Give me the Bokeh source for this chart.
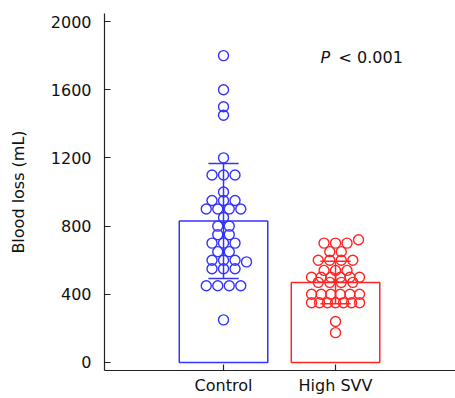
from bokeh.plotting import figure
from bokeh.models import FixedTicker, Label, Range1d
from bokeh.embed import file_html
from bokeh.resources import INLINE

# ---------------- data ----------------
categories = ["Control", "High SVV"]
cat_pos = [1, 2]
control_values = [1800, 1600, 1500, 1450, 1200, 1100, 1100, 1100, 1000,
                  950, 950, 950, 900, 900, 900, 900, 850, 800, 800,
                  750, 750, 700, 700, 700, 650, 650, 600, 600, 600, 590,
                  550, 550, 550, 450, 450, 450, 450, 250]
high_svv_values = [720, 700, 700, 700, 650, 650, 600, 600, 600, 600,
                   540, 540, 540, 500, 500, 500, 500, 500, 500,
                   470, 470, 470, 470, 400, 400, 400, 400, 400, 400,
                   350, 350, 350, 350, 350, 350, 350, 240, 175]
bar_means = [830, 469]
bar_sds = [337, 125]
y_ticks = [0, 400, 800, 1200, 1600, 2000]
y_label = "Blood loss (mL)"
p_italic = "P"
p_rest = "< 0.001"

colors = ["#3434ff", "#ff2525"]
FONT = "DejaVu Sans"

# ---------------- figure ----------------
W, H = 455, 398
BL, BR, BT, BB = 104, 0, 13, 28
x0, x1 = -0.0625, 3.071
y0, y1 = -47, 2047

p = figure(width=W, height=H, x_range=Range1d(x0, x1), y_range=Range1d(y0, y1),
           output_backend="svg", toolbar_location=None,
           min_border_left=BL, min_border_right=BR, min_border_top=BT,
           min_border_bottom=BB)
p.outline_line_color = None
p.grid.visible = False
p.background_fill_color = "white"
p.border_fill_color = "white"

sx = (W - BL - BR) / (x1 - x0)   # px per x unit
sy = (H - BT - BB) / (y1 - y0)   # px per y unit


def swarm(vals, d, maxw, thresh):
    groups = {}
    for i, v in enumerate(vals):
        groups.setdefault(v, []).append(i)
    offs = [0.0] * len(vals)
    placed, singles = [], []
    for v, idx in groups.items():
        n = len(idx)
        if n == 1:
            singles.append(idx[0])
            continue
        step = min(d, maxw / (n - 1))
        for k, i in enumerate(idx):
            offs[i] = (k - (n - 1) / 2) * step
            placed.append((offs[i], v))
    cands = [0.0]
    for k in range(1, 9):
        cands += [k * d / 2, -k * d / 2]
    for i in singles:
        v = vals[i]
        chosen = 0.0
        for c in cands:
            if all(((c - px) * sx) ** 2 + ((v - py) * sy) ** 2 >= thresh ** 2
                   for px, py in placed):
                chosen = c
                break
        offs[i] = chosen
        placed.append((chosen, v))
    return offs


slot = 11.5 / sx
maxw = 48 / sx

# bars
p.vbar(x=cat_pos, top=bar_means, bottom=0, width=0.79, fill_color=None,
       line_color=colors, line_width=1.5)

# error bars
cap = 0.27
lo = [m - s for m, s in zip(bar_means, bar_sds)]
hi = [m + s for m, s in zip(bar_means, bar_sds)]
p.segment(x0=cat_pos, y0=lo, x1=cat_pos, y1=hi, line_color=colors, line_width=1.5)
p.segment(x0=[c - cap / 2 for c in cat_pos], y0=hi, x1=[c + cap / 2 for c in cat_pos],
          y1=hi, line_color=colors, line_width=1.5)
p.segment(x0=[c - cap / 2 for c in cat_pos], y0=lo, x1=[c + cap / 2 for c in cat_pos],
          y1=lo, line_color=colors, line_width=1.5)

# points
for pos, vals, col in zip(cat_pos, [control_values, high_svv_values], colors):
    offs = swarm(vals, slot, maxw, 8)
    p.scatter(x=[pos + o for o in offs], y=vals, marker="circle", size=10,
              fill_color=None, line_color=col, line_width=1.4)

# axes
for ax in (p.xaxis[0], p.yaxis[0]):
    ax.axis_line_color = "#222222"
    ax.axis_line_width = 1.2
    ax.major_tick_line_color = "#222222"
    ax.major_tick_line_width = 1.2
    ax.major_tick_in = 6
    ax.major_tick_out = 0
    ax.minor_tick_line_color = None
    ax.major_label_text_font = FONT
    ax.major_label_text_font_size = "16px"
    ax.major_label_text_color = "#111111"

p.yaxis.ticker = FixedTicker(ticks=y_ticks)
p.yaxis.major_label_standoff = 13
p.yaxis.axis_label = y_label
p.yaxis.axis_label_text_font = FONT
p.yaxis.axis_label_text_font_size = "16px"
p.yaxis.axis_label_text_font_style = "normal"
p.yaxis.axis_label_text_color = "#111111"
p.yaxis.axis_label_standoff = 20

p.xaxis.ticker = FixedTicker(ticks=cat_pos)
p.xaxis.major_label_overrides = {c: n for c, n in zip(cat_pos, categories)}
p.xaxis.major_label_standoff = 5

# annotation
p.add_layout(Label(x=1.866, y=1790, text=p_italic, text_font=FONT,
                   text_font_style="italic", text_font_size="16px",
                   text_color="#111111", text_baseline="alphabetic"))
p.add_layout(Label(x=2.027, y=1790, text=p_rest, text_font=FONT,
                   text_font_size="16px", text_color="#111111",
                   text_baseline="alphabetic"))

open("out.html", "w").write(file_html(p, INLINE))
